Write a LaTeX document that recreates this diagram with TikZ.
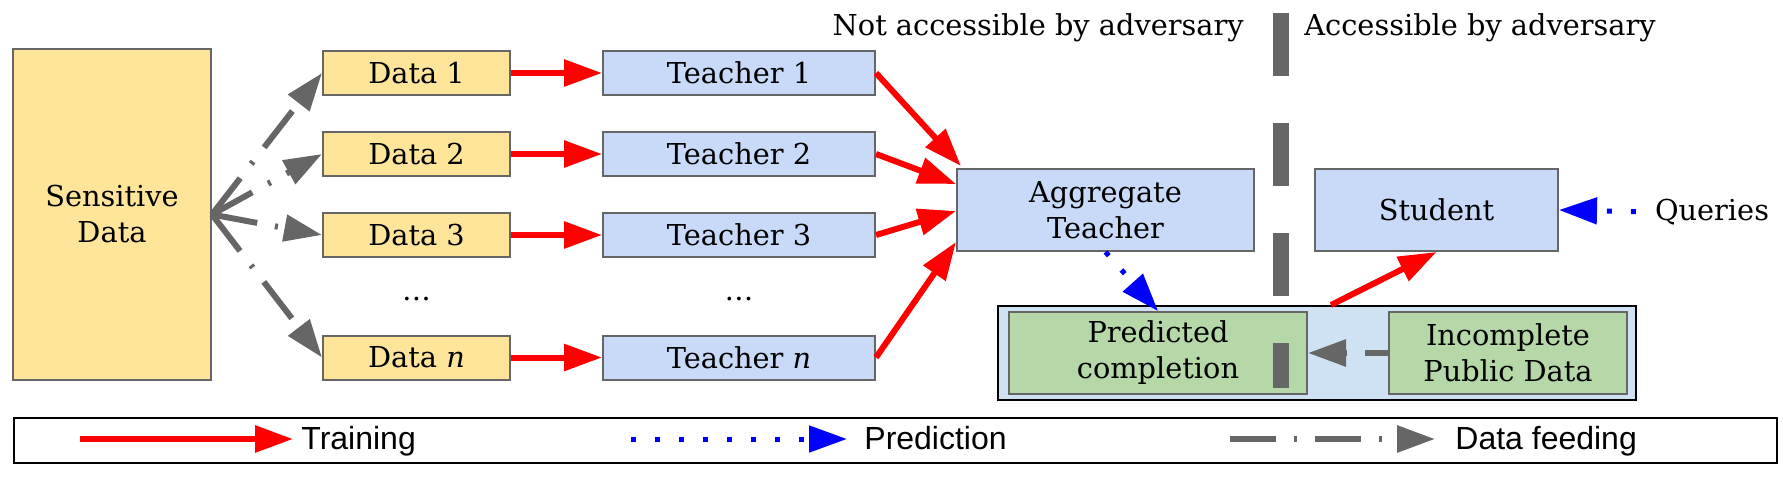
\documentclass[tikz,border=0pt]{standalone}
\usepackage{fontspec}
\setmainfont{DejaVu Serif}
\newfontfamily\legendfont{Liberation Sans}
\usetikzlibrary{arrows.meta,calc}
\definecolor{datayellow}{HTML}{FFE599}
\definecolor{teacherblue}{HTML}{C9DAF8}
\definecolor{predgreen}{HTML}{B6D7A8}
\definecolor{publicblue}{HTML}{CFE2F3}
\definecolor{boxgrey}{HTML}{666666}
\begin{document}
\begin{tikzpicture}[x=0.5pt, y=-0.5pt, font=\fontsize{14.4}{18}\selectfont,
  box/.style={draw=boxgrey, line width=1pt, align=center, inner sep=0pt},
  databox/.style={box, fill=datayellow, minimum width=93.5pt, minimum height=22pt},
  teacherbox/.style={box, fill=teacherblue, minimum width=136pt, minimum height=22pt},
  train/.style={red, line width=3pt, -{Triangle[length=19pt,width=13pt]}},
  predict/.style={blue, line width=2.5pt, dash pattern=on 2.5pt off 9.5pt, -{Triangle[length=19pt,width=13pt]}},
  feed/.style={boxgrey, line width=3pt, dash pattern=on 23pt off 9pt on 1.5pt off 9pt, -{Triangle[length=19pt,width=13pt]}},
  legtext/.style={anchor=base west, inner sep=0pt, font=\legendfont\fontsize{16}{19}\selectfont}]
  \useasboundingbox (0,0) rectangle (1783,477);
  \node[box, fill=datayellow, minimum width=99pt, minimum height=165.5pt] (sens) at (112,214.5) {Sensitive\\Data};
  \foreach \i/\y/\lab in {1/73/1, 2/154/2, 3/235/3, n/357.5/{\textit{n}}} {
    \node[databox] (data\i) at (416.5,\y) {Data \lab};
    \node[teacherbox] (teacher\i) at (739,\y) {Teacher \lab};
    \draw[feed] (sens.east) -- (data\i.west);
    \draw[train] (data\i.east) -- (teacher\i.west);
  }
  \node[anchor=base] (datadots) at (416.5,300) {\dots};
  \node[anchor=base] (teacherdots) at (739,300) {\dots};
  \node[box, fill=teacherblue, minimum width=148.5pt, minimum height=41pt] (agg) at (1105.5,210) {Aggregate\\Teacher};
  \node[box, fill=teacherblue, minimum width=121.5pt, minimum height=41pt] (student) at (1436.5,210) {Student};
  \node[draw=black, line width=1pt, fill=publicblue, minimum width=319pt, minimum height=47pt] (public) at (1317,353) {};
  \node[box, fill=predgreen, minimum width=149pt, minimum height=41pt] (pred) at (1158,353) {Predicted\\completion};
  \node[box, fill=predgreen, minimum width=119pt, minimum height=41pt] (incomplete) at (1508,353) {Incomplete\\Public Data};
  \node (queries) at (1712,212) {Queries};
  \draw[train] (teacher1.east) -- ($(agg.north west)+(5,-2)$);
  \draw[train] (teacher2.east) -- ($(agg.west)+(0,-26)$);
  \draw[train] (teacher3.east) -- ($(agg.west)+(0,1)$);
  \draw[train] (teachern.east) -- ($(agg.west)+(0,32)$);
  \draw[predict] (agg.south) -- (pred.north);
  \draw[train] ($(public.north)+(14,0)$) -- (student.south);
  \draw[feed, dash phase=11.5pt] (incomplete.west) -- (pred.east);
  \draw[predict, shorten <=6pt] (queries.west) -- (student.east);
  \coordinate (divtop) at (1281,13);
  \coordinate (divbot) at (1281,388);
  \draw[boxgrey, line width=8pt, dash pattern=on 31.5pt off 23.5pt] (divtop) -- (divbot);
  \node[anchor=base east, inner sep=0pt] (notacc) at (1244,35) {Not accessible by adversary};
  \node[anchor=base west, inner sep=0pt] (acc) at (1304,35) {Accessible by adversary};
  \node[draw=black, line width=1.2pt, minimum width=881.5pt, minimum height=22.5pt] (legend) at (895.5,440.5) {};
  \coordinate (trainA) at (80,439);
  \coordinate (trainB) at (293,439);
  \coordinate (predA) at (631,439);
  \coordinate (predB) at (847,439);
  \coordinate (feedA) at (1230,439);
  \coordinate (feedB) at (1435,439);
  \draw[train] (trainA) -- (trainB);
  \draw[predict] (predA) -- (predB);
  \draw[feed] (feedA) -- (feedB);
  \node[legtext] (traintext) at (301,449) {Training};
  \node[legtext] (predtext) at (864,449) {Prediction};
  \node[legtext] (feedtext) at (1455,449) {Data feeding};
\end{tikzpicture}
\end{document}
